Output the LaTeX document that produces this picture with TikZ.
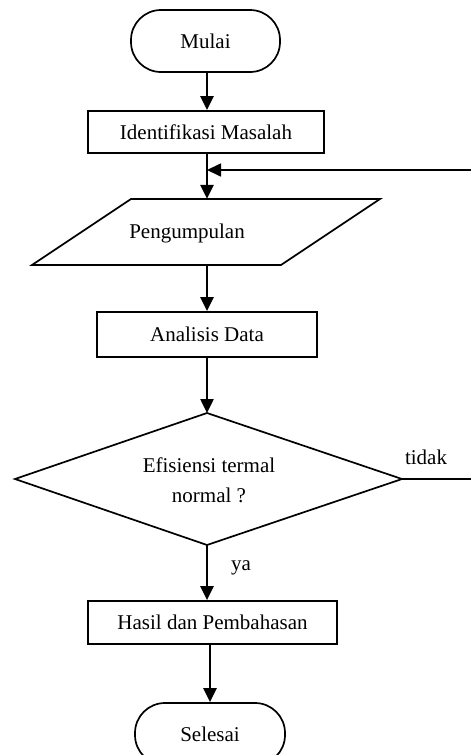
\documentclass[tikz,border=0pt]{standalone}
\usepackage{fontspec}
\setmainfont{Liberation Serif}
\usetikzlibrary{arrows.meta}
\begin{document}
\begin{tikzpicture}[x=1pt,y=-1pt,
  font=\fontsize{21}{30}\selectfont,
  outline/.style={draw, line width=1.7pt},
  term/.style={outline, rounded corners=30pt, inner sep=0pt},
  proc/.style={outline, inner sep=0pt},
  arr/.style={line width=2.5pt, -{Triangle[length=14pt,width=13pt]}},
  fb/.style={line width=1.7pt, -{Triangle[length=14pt,width=13pt]}},
  lbl/.style={inner sep=0pt}]
\useasboundingbox (0,0) rectangle (471,755);
\coordinate (sp) at (207,0);
% nodes
\node[term, minimum width=149pt, minimum height=62pt] (start) at (205.5,41) {Mulai};
\node[proc, minimum width=236pt, minimum height=42pt] (ident) at (206,132) {Identifikasi Masalah};
\node[inner sep=0pt, minimum width=249pt, minimum height=66pt] (pg) at (206,232) {};
\draw[outline] (131,199) -- (380,199) -- (281,265) -- (32,265) -- cycle;
\node[lbl] (pgtext) at (187,233) {Pengumpulan};
\node[proc, minimum width=220pt, minimum height=45pt] (anal) at (207,334.5) {Analisis Data};
% decision
\coordinate (dtop) at (207,413);
\coordinate (dbot) at (207,545);
\coordinate (dleft) at (15,479);
\coordinate (dright) at (402,479);
\draw[outline, line join=miter] (dleft) -- (dtop) -- (dright) -- (dbot) -- cycle;
\node[lbl, align=center] (dec) at (209,480) {Efisiensi termal\\normal ?};
\node[proc, minimum width=249pt, minimum height=43pt] (hasil) at (212.5,622.5) {Hasil dan Pembahasan};
\node[term, minimum width=150pt, minimum height=62pt] (end) at (210,734) {Selesai};
% labels
\node[lbl] (tidak) at (426,457) {tidak};
\node[lbl] (ya) at (241,568) {ya};
% connectors
\coordinate (join) at (207,170);
\draw[arr] (start.south -| sp) -- (ident.north -| sp);
\draw[arr] (ident.south -| sp) -- (pg.north -| sp);
\draw[arr] (pg.south -| sp) -- (anal.north -| sp);
\draw[arr] (anal.south -| sp) -- (dtop);
\draw[arr] (dbot) -- (dbot |- hasil.north);
\draw[arr] (hasil.south -| end.north) -- (end.north);
\draw[fb] (dright) -- ++(80,0) |- (join);
\end{tikzpicture}
\end{document}
